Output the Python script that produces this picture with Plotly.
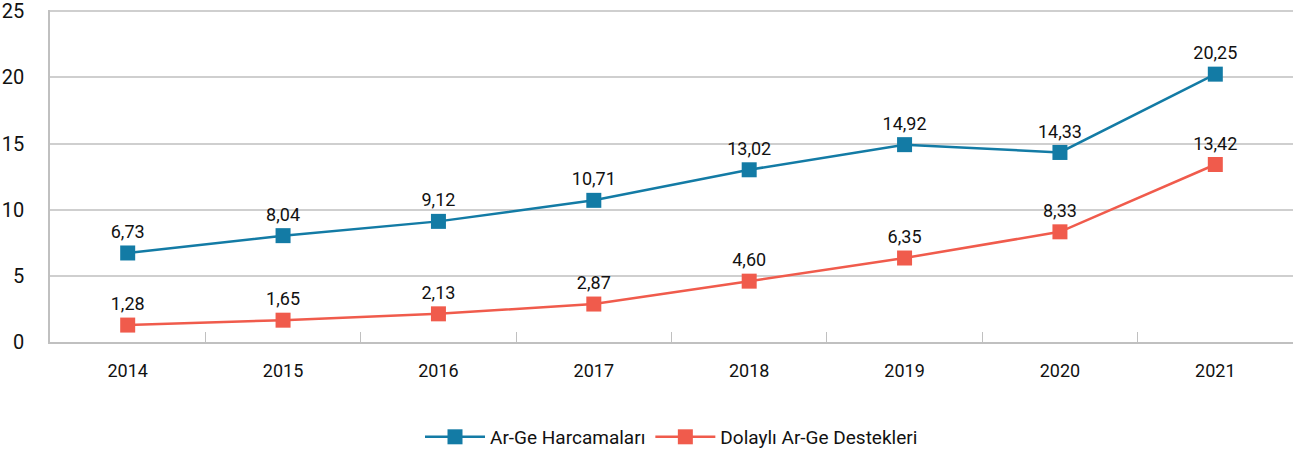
import plotly.graph_objects as go

years = ["2014", "2015", "2016", "2017", "2018", "2019", "2020", "2021"]
arge_harcamalari = [6.73, 8.04, 9.12, 10.71, 13.02, 14.92, 14.33, 20.25]
dolayli_destekler = [1.28, 1.65, 2.13, 2.87, 4.60, 6.35, 8.33, 13.42]
y_ticks = [0, 5, 10, 15, 20, 25]

def fmt(v):
    return f"{v:.2f}".replace(".", ",")

FONT = "Roboto, sans-serif"
BLUE = "#137ba5"
RED = "#f05b4c"

fig = go.Figure()
fig.add_trace(go.Scatter(
    x=years, y=arge_harcamalari, name="Ar-Ge Harcamaları",
    mode="lines+markers+text", text=[fmt(v) for v in arge_harcamalari],
    textposition="top center", textfont=dict(size=18, color="#111", family=FONT),
    line=dict(color=BLUE, width=2.5),
    marker=dict(symbol="square", size=15, color=BLUE),
))
fig.add_trace(go.Scatter(
    x=years, y=dolayli_destekler, name="Dolaylı Ar-Ge Destekleri",
    mode="lines+markers+text", text=[fmt(v) for v in dolayli_destekler],
    textposition="top center", textfont=dict(size=18, color="#111", family=FONT),
    line=dict(color=RED, width=2.5),
    marker=dict(symbol="square", size=15, color=RED),
))

fig.update_layout(
    width=1300, height=453,
    margin=dict(l=50, r=7, t=10, b=111, autoexpand=False),
    plot_bgcolor="white", paper_bgcolor="white",
    font=dict(family=FONT, size=18, color="#111"),
    showlegend=True,
    legend=dict(orientation="h", x=0.5, xanchor="center", y=-0.286, yanchor="middle",
                font=dict(size=19, family=FONT), itemwidth=60, traceorder="normal"),
    xaxis=dict(
        type="category", showgrid=False, showline=True, linecolor="#c0c0c0", linewidth=1.5,
        ticks="inside", tickson="boundaries", ticklen=10, tickcolor="#c0c0c0",
        ticklabelstandoff=12, range=[-0.5, 7.5], automargin=False,
        tickfont=dict(size=18),
    ),
    yaxis=dict(
        range=[0, 25.1], tickvals=y_ticks, showgrid=True, gridcolor="#cfcfcf", gridwidth=1.5,
        showline=True, linecolor="#c0c0c0", linewidth=1.5, zeroline=False,
        ticks="", ticklabelstandoff=20, tickfont=dict(size=20), automargin=False,
        ticklabeloverflow="allow",
    ),
)

fig.write_html(
    "out.html",
    config={"displayModeBar": False},
    post_script="document.body.style.margin='0';document.body.style.overflow='hidden';",
)
